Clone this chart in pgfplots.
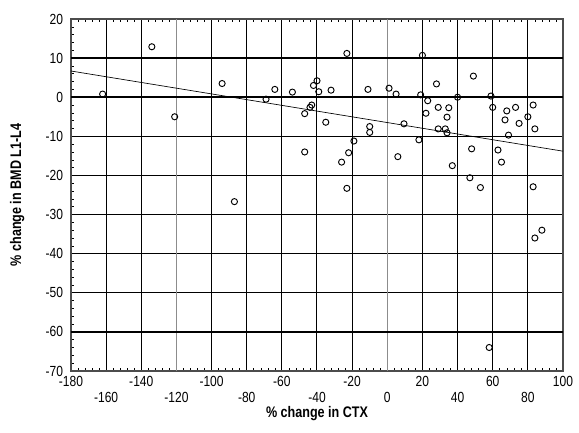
\documentclass[border=0pt]{standalone}
\usepackage{pgfplots}
\pgfplotsset{compat=1.18}
\usepackage{fontspec}
\setmainfont{Liberation Sans}[FakeStretch=0.82]
\begin{document}
\begin{tikzpicture}
\begin{axis}[
  scale only axis, width=369pt, height=264pt,
  xmin=-180, xmax=100, ymin=-70, ymax=20,
  xtick={-180,-160,...,100},
  xticklabels={-180,\strut\\-160,-140,\strut\\-120,-100,\strut\\-80,-60,\strut\\-40,-20,\strut\\0,20,\strut\\40,60,\strut\\80,100},
  xticklabel style={align=center, yshift=-0.5pt},
  ytick={-70,-60,...,20},
  yticklabel style={xshift=-2.5pt},
  minor x tick num=4, minor y tick num=4,
  grid=major,
  major grid style={black, line width=0.75pt},
  tick align=inside, major tick length=0pt, minor tick length=2pt,
  minor tick style={black, line width=0.4pt},
  ytick pos=left,
  axis line style={black!70, line width=0.8pt},
  /pgf/number format/assume math mode=true,
  ticklabel style={font=\fontsize{11}{11.5}\selectfont},
  xlabel={\textbf{\% change in CTX}},
  ylabel={\textbf{\% change in BMD L1-L4}},
  label style={font=\fontsize{11.5}{12}\selectfont},
  xlabel style={yshift=4pt},
  ylabel style={yshift=9pt},
]
\draw[black!45, line width=0.9pt] (axis cs:-120,-70) -- (axis cs:-120,20);
\draw[black!45, line width=0.9pt] (axis cs:0,-70) -- (axis cs:0,20);
\draw[black, line width=1.2pt] (axis cs:-180,10) -- (axis cs:100,10);
\draw[black, line width=1.2pt] (axis cs:-180,0) -- (axis cs:100,0);
\draw[black, line width=1.2pt] (axis cs:-180,-60) -- (axis cs:100,-60);
\addplot[black, line width=0.5pt] coordinates {(-180,6.7) (100,-13.8)};
\addplot[only marks, mark=o, mark size=2.3pt, mark options={fill=white, line width=0.7pt, black}] coordinates {
(-162,0.8) (-134,12.9) (-121,-5) (-94,3.5) (-87,-26.7) (-69,-0.5) (-64,2) (-54,1.3)
(-47,-14) (-47,-4.2) (-44,-2.6) (-43,-2) (-42,3) (-40,4.2) (-39,1.4) (-35,-6.4)
(-32,1.8) (-26,-16.6) (-23,11.2) (-23,-23.3) (-22,-14.2) (-19,-11.2) (-11,2)
(-10,-7.5) (-10,-9) (1,2.3) (5,0.8) (6,-15.2) (9.5,-6.8) (18,-10.9) (19,0.6)
(20,10.7) (22,-4.1) (23,-0.9) (28,3.4) (29,-2.6) (29,-8.1) (33,-8.1) (34,-5.1)
(34,-9.1) (35,-2.7) (37,-17.5) (40,0) (47,-20.6) (48,-13.2) (49,5.4) (53,-23.1)
(58,-64) (59,0.3) (60,-2.6) (63,-13.5) (65,-16.6) (67,-5.8) (68,-3.5) (69,-9.7)
(73,-2.6) (75,-6.7) (80,-5) (83,-2) (83,-22.9) (84,-8.1) (84,-36) (88,-34)
};
\end{axis}
\path (current axis.south west) ++(-53.25pt,-46.5pt);
\path (current axis.north east) ++(12pt,14.25pt);
\end{tikzpicture}
\end{document}
